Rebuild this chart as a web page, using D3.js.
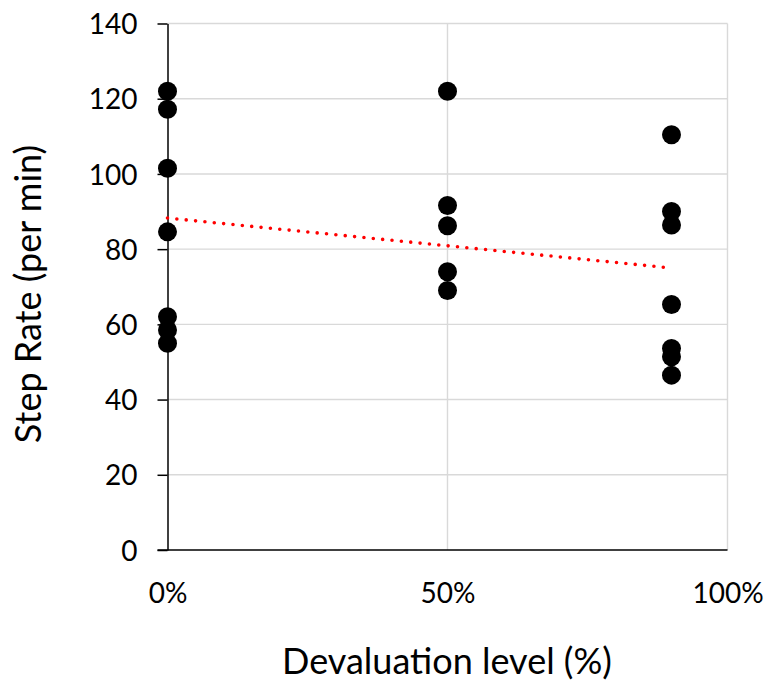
<!DOCTYPE html>
<html>
<head>
<meta charset="utf-8">
<script src="https://cdn.jsdelivr.net/npm/d3@7"></script>
<style>
  html, body { margin: 0; padding: 0; background: #fff; }
  svg { display: block; }
  text { font-family: Lato, "Open Sans", "Liberation Sans", sans-serif; fill: #000; }
</style>
</head>
<body>
<svg id="chart" width="770" height="686"></svg>
<script>
// Devaluation levels (fraction) and step rates observed at each level
const levels = [0, 0.5, 0.9];
const rateAt0 = [122.0, 117.2, 101.5, 84.6, 62.0, 58.5, 55.0];
const rateAt50 = [122.0, 91.6, 86.2, 74.0, 69.0];
const rateAt90 = [110.4, 90.0, 86.4, 65.3, 53.6, 51.4, 46.5];
const yTicks = [0, 20, 40, 60, 80, 100, 120, 140];
const xTicks = [0, 0.5, 1];
const xTickLabels = ["0%", "50%", "100%"];

const points = [rateAt0, rateAt50, rateAt90].flatMap((rates, i) =>
  rates.map(v => ({ x: levels[i], y: v })));

const svg = d3.select("#chart");
const x = d3.scaleLinear().domain([0, 1]).range([167.5, 727.5]);
const y = d3.scaleLinear().domain([0, 140]).range([550, 23.5]);

// gridlines
const grid = svg.append("g").attr("stroke", "#d9d9d9").attr("stroke-width", 1.4);
grid.selectAll("line.h").data(yTicks.filter(d => d > 0)).join("line")
  .attr("x1", x(0)).attr("x2", x(1))
  .attr("y1", d => y(d)).attr("y2", d => y(d));
grid.selectAll("line.v").data(xTicks.filter(d => d > 0)).join("line")
  .attr("x1", d => x(d)).attr("x2", d => x(d))
  .attr("y1", y(0)).attr("y2", y(140));

// y axis
const yAxis = svg.append("g")
  .attr("transform", `translate(${x(0)},0)`)
  .call(d3.axisLeft(y).tickValues(yTicks).tickSize(10).tickPadding(20).tickSizeOuter(0));
yAxis.select(".domain").attr("stroke", "#000").attr("stroke-width", 1.5);
yAxis.selectAll(".tick line").attr("stroke", "#000").attr("stroke-width", 1.5);
yAxis.selectAll(".tick text")
  .attr("font-size", 28).attr("dy", "0.36em")
  .style("font-family", "Lato, 'Open Sans', sans-serif");

// x axis: baseline with labels, no tick marks
const xAxis = svg.append("g")
  .attr("transform", `translate(0,${y(0)})`)
  .call(d3.axisBottom(x).tickValues(xTicks)
    .tickFormat((d, i) => xTickLabels[i]).tickSize(0).tickPadding(0));
xAxis.select(".domain").remove();
xAxis.append("line")
  .attr("x1", x(0) - 10).attr("x2", x(1))
  .attr("stroke", "#000").attr("stroke-width", 1.5);
xAxis.selectAll(".tick text")
  .attr("font-size", 28).attr("y", 53).attr("dy", 0)
  .style("font-family", "Lato, 'Open Sans', sans-serif");

// least-squares trend line over the observed range
const mx = d3.mean(points, d => d.x), my = d3.mean(points, d => d.y);
const slope = d3.sum(points, d => (d.x - mx) * (d.y - my)) /
              d3.sum(points, d => (d.x - mx) ** 2);
const intercept = my - slope * mx;
const xr = d3.extent(points, d => d.x);
svg.append("line")
  .attr("x1", x(xr[0])).attr("y1", y(intercept + slope * xr[0]))
  .attr("x2", x(xr[1])).attr("y2", y(intercept + slope * xr[1]))
  .attr("stroke", "#ff0000").attr("stroke-width", 3.6)
  .attr("stroke-linecap", "round").attr("stroke-dasharray", "0 9.4");

// data points
svg.append("g").selectAll("circle").data(points).join("circle")
  .attr("cx", d => x(d.x)).attr("cy", d => y(d.y))
  .attr("r", 9.5).attr("fill", "#000");

// axis titles
svg.append("text")
  .attr("x", 447).attr("y", 674).attr("text-anchor", "middle")
  .attr("font-size", 36).text("Devaluation level (%)");
svg.append("text")
  .attr("transform", "translate(41,294) rotate(-90)")
  .attr("text-anchor", "middle")
  .attr("font-size", 36).text("Step Rate (per min)");
</script>
</body>
</html>
